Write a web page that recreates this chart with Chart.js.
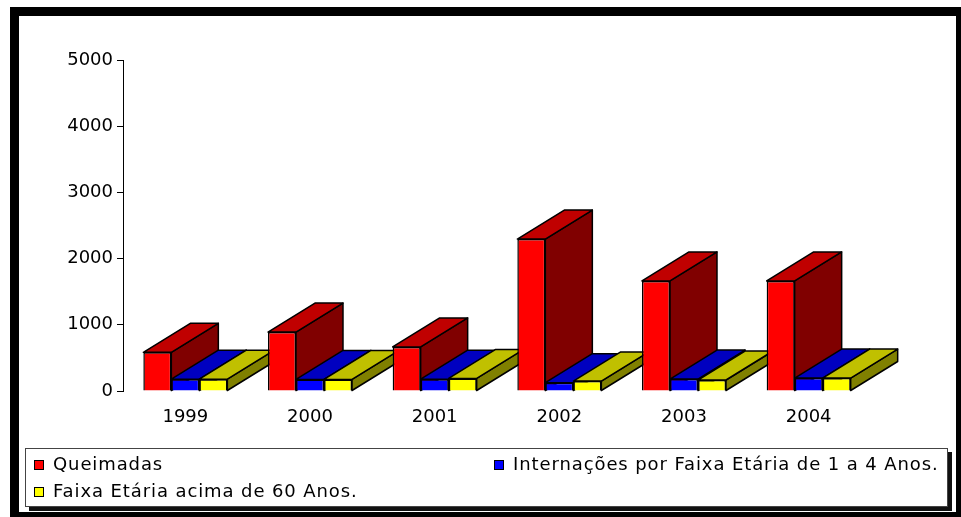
<!DOCTYPE html>
<html>
<head>
<meta charset="utf-8">
<script src="https://cdn.jsdelivr.net/npm/chart.js@4.4.1/dist/chart.umd.min.js"></script>
<style>
    html, body { margin: 0; padding: 0; background: #fff; }
    body { width: 961px; height: 517px; position: relative; overflow: hidden; font-family: "DejaVu Sans", sans-serif; }
    #frame { position: absolute; left: 10px; top: 7px; width: 955px; height: 514px; box-sizing: border-box; border: 9px solid #000; }
    #chart { position: absolute; left: 0; top: 0; }
    #legend { position: absolute; left: 25px; top: 448px; width: 923px; height: 59px; box-sizing: border-box; border: 1px solid #444; background: #fff; box-shadow: 4px 4px 0 #111; }
    .item { position: absolute; font-size: 18px; letter-spacing: 0.9px; color: #000; line-height: 20px; white-space: nowrap; }
    .item .sq { position: absolute; left: 0; top: 6px; width: 8px; height: 8px; border: 1px solid #000; }
    .item span.t { margin-left: 19px; }
</style>
</head>
<body>
<div id="frame"></div>
<canvas id="chart" width="961" height="517"></canvas>
<div id="legend"></div>
<script>
    const years = ['1999', '2000', '2001', '2002', '2003', '2004'];
    const queimadas = [585, 890, 665, 2295, 1662, 1662];
    const internacoes = [178, 175, 178, 125, 180, 195];
    const acima60 = [178, 175, 190, 150, 166, 195];
    const yTicks = [0, 1000, 2000, 3000, 4000, 5000];

    // front, top, side colours for each series
    const palette = [
        ['#ff0000', '#c00000', '#800000'],
        ['#0000ff', '#0000c0', '#000080'],
        ['#ffff00', '#c0c000', '#808000']
    ];
    const depthX = 47;
    const depthY = -29;

    const face = (ctx, pts, fill) => {
        ctx.beginPath();
        ctx.moveTo(pts[0][0], pts[0][1]);
        pts.slice(1).forEach(p => ctx.lineTo(p[0], p[1]));
        ctx.closePath();
        ctx.fillStyle = fill;
        ctx.fill();
        ctx.stroke();
    };

    const bars3d = {
        id: 'bars3d',
        beforeDatasetsDraw(chart) {
            const ctx = chart.ctx;
            ctx.save();
            ctx.strokeStyle = '#000';
            ctx.lineWidth = 1.5;
            ctx.lineJoin = 'round';
            years.forEach((y, i) => {
                chart.data.datasets.forEach((ds, d) => {
                    const bar = chart.getDatasetMeta(d).data[i];
                    const l = bar.x - bar.width / 2;
                    const r = bar.x + bar.width / 2;
                    const t = bar.y;
                    const b = bar.base;
                    face(ctx, [[r, t], [r + depthX, t + depthY], [r + depthX, b + depthY], [r, b]], palette[d][2]);
                    face(ctx, [[l, t], [l + depthX, t + depthY], [r + depthX, t + depthY], [r, t]], palette[d][1]);
                });
            });
            ctx.restore();
        }
    };

    const labels = ['Queimadas', 'Internações por Faixa Etária de 1 a 4 Anos.', 'Faixa Etária acima de 60 Anos.'];
    const series = [queimadas, internacoes, acima60];

    const data = {
        labels: years,
        datasets: series.map((s, d) => ({
            label: labels[d],
            data: s,
            backgroundColor: palette[d][0],
            borderColor: '#000',
            borderWidth: 1.5,
            categoryPercentage: 0.674,
            barPercentage: 1.0
        }))
    };

    const options = {
        responsive: false,
        animation: false,
        layout: { padding: { left: 10, right: 90, top: 60, bottom: 86 } },
        plugins: { legend: { display: false }, tooltip: { enabled: false } },
        scales: {
            x: {
                grid: { display: false },
                border: { display: false },
                ticks: { color: '#000', padding: 8, font: { family: 'DejaVu Sans', size: 18 } },
                afterFit: s => { s.height = 40; }
            },
            y: {
                min: 0,
                max: 5000,
                afterBuildTicks: s => { s.ticks = yTicks.map(v => ({ value: v })); },
                grid: { drawOnChartArea: false, drawTicks: true, tickLength: 6, color: '#000' },
                border: { display: true, color: '#000', width: 1 },
                ticks: { color: '#000', padding: 4, font: { family: 'DejaVu Sans', size: 18 }, callback: v => String(v) },
                afterFit: s => { s.width = 113; }
            }
        }
    };

    const chart = new Chart(document.getElementById('chart'), { type: 'bar', data: data, options: options, plugins: [bars3d] });

    // legend: two columns, built from the datasets
    const pos = [[8, 5], [468, 5], [8, 32]];
    const legend = document.getElementById('legend');
    chart.data.datasets.forEach((ds, d) => {
        const el = document.createElement('div');
        el.className = 'item';
        el.style.left = pos[d][0] + 'px';
        el.style.top = pos[d][1] + 'px';
        el.innerHTML = '<div class="sq" style="background:' + ds.backgroundColor + '"></div><span class="t"></span>';
        el.querySelector('.t').textContent = ds.label;
        legend.appendChild(el);
    });
</script>
</body>
</html>
